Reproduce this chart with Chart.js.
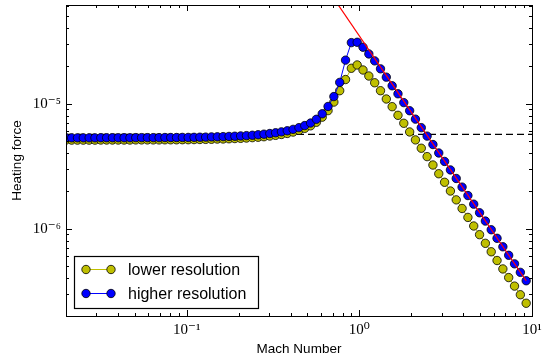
<!DOCTYPE html>
<html>
<head>
<meta charset="utf-8">
<script src="https://cdn.jsdelivr.net/npm/chart.js"></script>
<style>
  html, body { margin: 0; padding: 0; background: #fff; }
  canvas { display: block; }
</style>
</head>
<body>
<canvas id="heatingChart" width="545" height="356"></canvas>
<script>
// Mach numbers of the sampled runs (log spaced)
const mach = [
  0.01995, 0.02157, 0.02331, 0.02519, 0.02723, 0.02943, 0.03181, 0.03438, 0.03715, 0.04016,
  0.04341, 0.04691, 0.05070, 0.05480, 0.05923, 0.06402, 0.06918, 0.07477, 0.08082, 0.08735,
  0.09441, 0.1020, 0.1103, 0.1192, 0.1288, 0.1392, 0.1505, 0.1626, 0.1758, 0.1900,
  0.2054, 0.2219, 0.2399, 0.2593, 0.2802, 0.3029, 0.3273, 0.3538, 0.3824, 0.4133,
  0.4467, 0.4828, 0.5218, 0.5640, 0.6095, 0.6588, 0.7120, 0.7696, 0.8318, 0.8990,
  0.9716, 1.050, 1.135, 1.227, 1.326, 1.433, 1.549, 1.674, 1.809, 1.956,
  2.113, 2.284, 2.469, 2.668, 2.884, 3.117, 3.369, 3.641, 3.936, 4.254,
  4.597, 4.969, 5.370, 5.805, 6.274, 6.781, 7.328, 7.921, 8.561, 9.253
];

const lowerRes = [
  5.11e-6, 5.11e-6, 5.11e-6, 5.11e-6, 5.11e-6, 5.11e-6, 5.12e-6, 5.12e-6, 5.12e-6, 5.12e-6,
  5.12e-6, 5.12e-6, 5.13e-6, 5.13e-6, 5.13e-6, 5.13e-6, 5.13e-6, 5.14e-6, 5.14e-6, 5.14e-6,
  5.15e-6, 5.15e-6, 5.16e-6, 5.17e-6, 5.18e-6, 5.19e-6, 5.21e-6, 5.22e-6, 5.24e-6, 5.26e-6,
  5.28e-6, 5.31e-6, 5.35e-6, 5.39e-6, 5.44e-6, 5.51e-6, 5.58e-6, 5.67e-6, 5.78e-6, 5.93e-6,
  6.12e-6, 6.35e-6, 6.65e-6, 7.10e-6, 7.80e-6, 8.80e-6, 1.03e-5, 1.27e-5, 1.56e-5, 1.92e-5,
  2.04e-5, 1.86e-5, 1.665e-5, 1.47e-5, 1.27e-5, 1.09e-5, 9.46e-6, 8.07e-6, 6.97e-6, 5.94e-6,
  5.13e-6, 4.40e-6, 3.77e-6, 3.23e-6, 2.75e-6, 2.35e-6, 2.00e-6, 1.70e-6, 1.45e-6, 1.23e-6,
  1.05e-6, 8.95e-7, 7.63e-7, 6.53e-7, 5.56e-7, 4.76e-7, 4.06e-7, 3.47e-7, 2.96e-7, 2.53e-7
];

const higherRes = [
  5.33e-6, 5.33e-6, 5.33e-6, 5.33e-6, 5.33e-6, 5.33e-6, 5.34e-6, 5.34e-6, 5.34e-6, 5.34e-6,
  5.34e-6, 5.34e-6, 5.35e-6, 5.35e-6, 5.35e-6, 5.35e-6, 5.35e-6, 5.36e-6, 5.36e-6, 5.36e-6,
  5.37e-6, 5.37e-6, 5.38e-6, 5.39e-6, 5.40e-6, 5.42e-6, 5.43e-6, 5.45e-6, 5.47e-6, 5.49e-6,
  5.52e-6, 5.55e-6, 5.59e-6, 5.64e-6, 5.70e-6, 5.77e-6, 5.85e-6, 5.95e-6, 6.07e-6, 6.23e-6,
  6.43e-6, 6.68e-6, 7.00e-6, 7.50e-6, 8.30e-6, 9.50e-6, 1.14e-5, 1.48e-5, 2.23e-5, 3.08e-5,
  3.10e-5, 2.83e-5, 2.50e-5, 2.20e-5, 1.90e-5, 1.63e-5, 1.39e-5, 1.20e-5, 1.02e-5, 8.78e-6,
  7.52e-6, 6.43e-6, 5.50e-6, 4.71e-6, 4.03e-6, 3.45e-6, 2.95e-6, 2.52e-6, 2.15e-6, 1.84e-6,
  1.57e-6, 1.34e-6, 1.15e-6, 9.80e-7, 8.37e-7, 7.16e-7, 6.12e-7, 5.23e-7, 4.47e-7, 3.83e-7
];

// supersonic power law guide (red) and subsonic level (dashed)
const fitMach = [0.70, 9.253];
const fitForce = [7.18e-5, 3.83e-7];
const levelMach = [0.02, 10];
const levelForce = [5.69e-6, 5.69e-6];

const xTicks = [0.1, 1, 10];
const xTickLabels = ['10⁻¹', '10⁰', '10¹'];
const yTicks = [1e-6, 1e-5];
const yTickLabels = ['10⁻⁶', '10⁻⁵'];
const legendLabels = ['lower resolution', 'higher resolution'];

const toPoints = (xs, ys) => xs.map((v, i) => ({ x: v, y: ys[i] }));

// inward ticks on all four sides + axes frame, like the matplotlib classic style
const frameAndTicks = {
  id: 'frameAndTicks',
  afterDatasetsDraw(chart) {
    const { ctx, chartArea: a, scales: { x, y } } = chart;
    ctx.save();
    ctx.strokeStyle = '#000';
    ctx.lineWidth = 1;
    ctx.beginPath();
    for (let e = -2; e <= 1; e++) {
      for (let m = 1; m <= 9; m++) {
        const v = m * Math.pow(10, e);
        if (v <= x.min * 1.001 || v > x.max * 1.0001) continue;
        const px = Math.round(x.getPixelForValue(v)) + 0.5;
        const len = m === 1 ? 6 : 3;
        ctx.moveTo(px, a.bottom); ctx.lineTo(px, a.bottom - len);
        ctx.moveTo(px, a.top); ctx.lineTo(px, a.top + len);
      }
    }
    for (let e = -7; e <= -5; e++) {
      for (let m = 1; m <= 9; m++) {
        const v = m * Math.pow(10, e);
        if (v <= y.min * 1.001 || v >= y.max * 0.999) continue;
        const py = Math.round(y.getPixelForValue(v)) + 0.5;
        const len = m === 1 ? 6 : 3;
        ctx.moveTo(a.left, py); ctx.lineTo(a.left + len, py);
        ctx.moveTo(a.right, py); ctx.lineTo(a.right - len, py);
      }
    }
    ctx.stroke();
    ctx.strokeRect(a.left + 0.5, a.top + 0.5, a.right - a.left, a.bottom - a.top);
    ctx.restore();
  }
};

// boxed legend with marker-line-marker symbols
const boxLegend = {
  id: 'boxLegend',
  afterDraw(chart) {
    const ctx = chart.ctx;
    const series = chart.data.datasets.filter(d => legendLabels.includes(d.label));
    ctx.save();
    ctx.fillStyle = '#fff';
    ctx.fillRect(74.5, 256.5, 184, 52);
    ctx.strokeStyle = '#000';
    ctx.lineWidth = 1.2;
    ctx.strokeRect(74.5, 256.5, 184, 52);
    series.forEach((ds, i) => {
      const cy = 269.5 + i * 24;
      ctx.strokeStyle = ds.borderColor;
      ctx.lineWidth = ds.borderWidth;
      ctx.beginPath();
      ctx.moveTo(86, cy); ctx.lineTo(111, cy);
      ctx.stroke();
      [86, 111].forEach(cx => {
        ctx.beginPath();
        ctx.arc(cx, cy, ds.pointRadius, 0, Math.PI * 2);
        ctx.fillStyle = ds.pointBackgroundColor;
        ctx.fill();
        ctx.lineWidth = ds.pointBorderWidth;
        ctx.strokeStyle = ds.pointBorderColor;
        ctx.stroke();
      });
      ctx.fillStyle = '#000';
      ctx.font = '16px "Liberation Sans", Arial, sans-serif';
      ctx.textBaseline = 'middle';
      ctx.fillText(ds.label, 128, cy + 1);
    });
    ctx.restore();
  }
};

const sansFont = '"Liberation Sans", Arial, sans-serif';
const serifFont = '"Liberation Serif", "DejaVu Serif", serif';

new Chart(document.getElementById('heatingChart'), {
  type: 'line',
  data: {
    datasets: [
      {
        label: 'subsonic level',
        data: toPoints(levelMach, levelForce),
        borderColor: '#000',
        borderWidth: 1.2,
        borderDash: [7, 4],
        pointRadius: 0,
        order: 4
      },
      {
        label: legendLabels[0],
        data: toPoints(mach, lowerRes),
        borderColor: '#bfbf00',
        backgroundColor: '#bfbf00',
        borderWidth: 1,
        pointRadius: 4.2,
        pointBackgroundColor: '#bfbf00',
        pointBorderColor: '#000',
        pointBorderWidth: 0.8,
        order: 3
      },
      {
        label: legendLabels[1],
        data: toPoints(mach, higherRes),
        borderColor: '#0000ff',
        backgroundColor: '#0000ff',
        borderWidth: 1,
        pointRadius: 4.2,
        pointBackgroundColor: '#0000ff',
        pointBorderColor: '#000',
        pointBorderWidth: 0.8,
        order: 2
      },
      {
        label: 'power law',
        data: toPoints(fitMach, fitForce),
        borderColor: '#ff0000',
        borderWidth: 1.2,
        pointRadius: 0,
        order: 1
      }
    ]
  },
  options: {
    responsive: false,
    animation: false,
    devicePixelRatio: 1,
    layout: { padding: { top: 5, right: 13, left: 0, bottom: 0 } },
    elements: { line: { tension: 0 } },
    plugins: { legend: { display: false }, tooltip: { enabled: false } },
    scales: {
      x: {
        type: 'logarithmic',
        min: 0.02,
        max: 10,
        grid: { display: false, drawTicks: false },
        border: { display: false },
        afterBuildTicks: s => { s.ticks = xTicks.map(v => ({ value: v })); },
        afterFit: s => { s.height = 40; s.paddingLeft = 0; s.paddingRight = 0; },
        ticks: {
          autoSkip: false,
          maxRotation: 0,
          padding: 5,
          color: '#000',
          font: { family: serifFont, size: 15 },
          callback: (v, i) => xTickLabels[i]
        },
        title: {
          display: true,
          text: 'Mach Number',
          color: '#000',
          font: { family: sansFont, size: 13.5, lineHeight: 1 },
          padding: { top: 0, bottom: 0 }
        }
      },
      y: {
        type: 'logarithmic',
        min: 2.0e-7,
        max: 6.16e-5,
        grid: { display: false, drawTicks: false },
        border: { display: false },
        afterBuildTicks: s => { s.ticks = yTicks.map(v => ({ value: v })); },
        afterFit: s => { s.width = 66; s.paddingTop = 0; s.paddingBottom = 0; },
        ticks: {
          autoSkip: false,
          padding: 5,
          color: '#000',
          font: { family: serifFont, size: 15 },
          callback: (v, i) => yTickLabels[i]
        },
        title: {
          display: true,
          text: 'Heating force',
          color: '#000',
          font: { family: sansFont, size: 13.5, lineHeight: 1 },
          padding: { top: 11, bottom: 0 }
        }
      }
    }
  },
  plugins: [frameAndTicks, boxLegend]
});
</script>
</body>
</html>
